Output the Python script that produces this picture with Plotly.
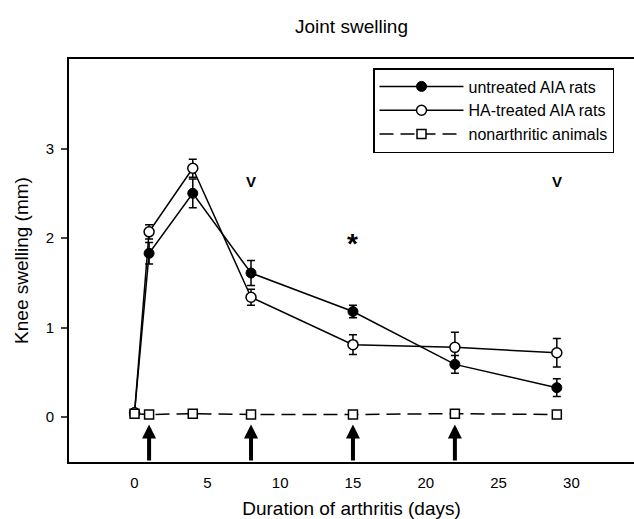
import plotly.graph_objects as go

days = [0, 1, 4, 8, 15, 22, 29]
untreated = [0.05, 1.83, 2.50, 1.61, 1.18, 0.59, 0.33]
untreated_err = [0.0, 0.12, 0.16, 0.14, 0.07, 0.10, 0.10]
ha_treated = [0.05, 2.07, 2.78, 1.34, 0.81, 0.78, 0.72]
ha_err = [0.0, 0.08, 0.10, 0.09, 0.11, 0.17, 0.16]
nonarthritic = [0.04, 0.03, 0.04, 0.03, 0.03, 0.04, 0.03]

injection_days = [1, 8, 15, 22]
marks = [(8, 2.63, "V"), (29, 2.63, "V"), (15, 2.03, "*")]

font = "Liberation Sans, Arial, sans-serif"

fig = go.Figure()
fig.add_trace(go.Scatter(
    x=days, y=untreated, name="untreated AIA rats", mode="lines+markers",
    line=dict(color="black", width=1.5),
    marker=dict(symbol="circle", size=10, color="black", line=dict(color="black", width=1)),
    error_y=dict(type="data", array=untreated_err, color="black", thickness=1.5, width=4),
))
fig.add_trace(go.Scatter(
    x=days, y=ha_treated, name="HA-treated AIA rats", mode="lines+markers",
    line=dict(color="black", width=1.5),
    marker=dict(symbol="circle", size=10, color="white", line=dict(color="black", width=1.5)),
    error_y=dict(type="data", array=ha_err, color="black", thickness=1.5, width=4),
))
fig.add_trace(go.Scatter(
    x=days, y=nonarthritic, name="nonarthritic animals", mode="lines+markers",
    line=dict(color="black", width=1.5, dash="14px,7px"),
    marker=dict(symbol="square", size=9, color="white", line=dict(color="black", width=1.5)),
))

for d in injection_days:
    fig.add_annotation(
        x=d, y=-0.08, ax=d, ay=-0.5, xref="x", yref="y", axref="x", ayref="y",
        showarrow=True, arrowhead=2, arrowsize=0.7, arrowwidth=4, arrowcolor="black", text="",
    )
for x, y, t in marks:
    if t == "*":
        fig.add_annotation(x=x, y=y, text="<b>*</b>", showarrow=False, yshift=-8,
                           font=dict(family=font, size=28, color="black"))
    else:
        fig.add_annotation(x=x, y=y, text="<b>V</b>", showarrow=False,
                           font=dict(family=font, size=15, color="black"))

fig.update_layout(
    width=634, height=519,
    margin=dict(l=69, r=0, t=59, b=57),
    paper_bgcolor="white", plot_bgcolor="white",
    font=dict(family=font, color="black", size=15),
    title=dict(text="Joint swelling", xref="paper", x=0.5, xanchor="center",
               yref="container", y=1 - 26 / 519, yanchor="middle",
               font=dict(family=font, size=19, color="black")),
    showlegend=True,
    legend=dict(
        x=(373 - 69) / 565, y=(462 - 68) / 403, xanchor="left", yanchor="top",
        bordercolor="black", borderwidth=1.5, bgcolor="white",
        font=dict(family=font, size=16, color="black"),
        traceorder="normal", itemwidth=84, tracegroupgap=0,
    ),
)

fig.update_xaxes(
    range=[-4.5, 34.3], tickvals=[0, 5, 10, 15, 20, 25, 30], ticks="",
    ticklabelstandoff=6,
    showline=True, linecolor="black", linewidth=2, mirror=True, showgrid=False, zeroline=False,
    automargin=False,
    title=dict(text="Duration of arthritis (days)", font=dict(family=font, size=19), standoff=12),
    tickfont=dict(family=font, size=15),
)
fig.update_yaxes(
    range=[-0.5, 4.0], tickvals=[0, 1, 2, 3], ticks="outside", ticklen=6, tickwidth=1.5,
    ticklabelstandoff=4,
    showline=True, linecolor="black", linewidth=2, mirror=False, showgrid=False, zeroline=False,
    automargin=False,
    title=dict(text="Knee swelling (mm)", font=dict(family=font, size=19), standoff=12),
    tickfont=dict(family=font, size=15),
)

fig.write_html("out.html", config={"displayModeBar": False},
               post_script="document.body.style.margin='0';")
